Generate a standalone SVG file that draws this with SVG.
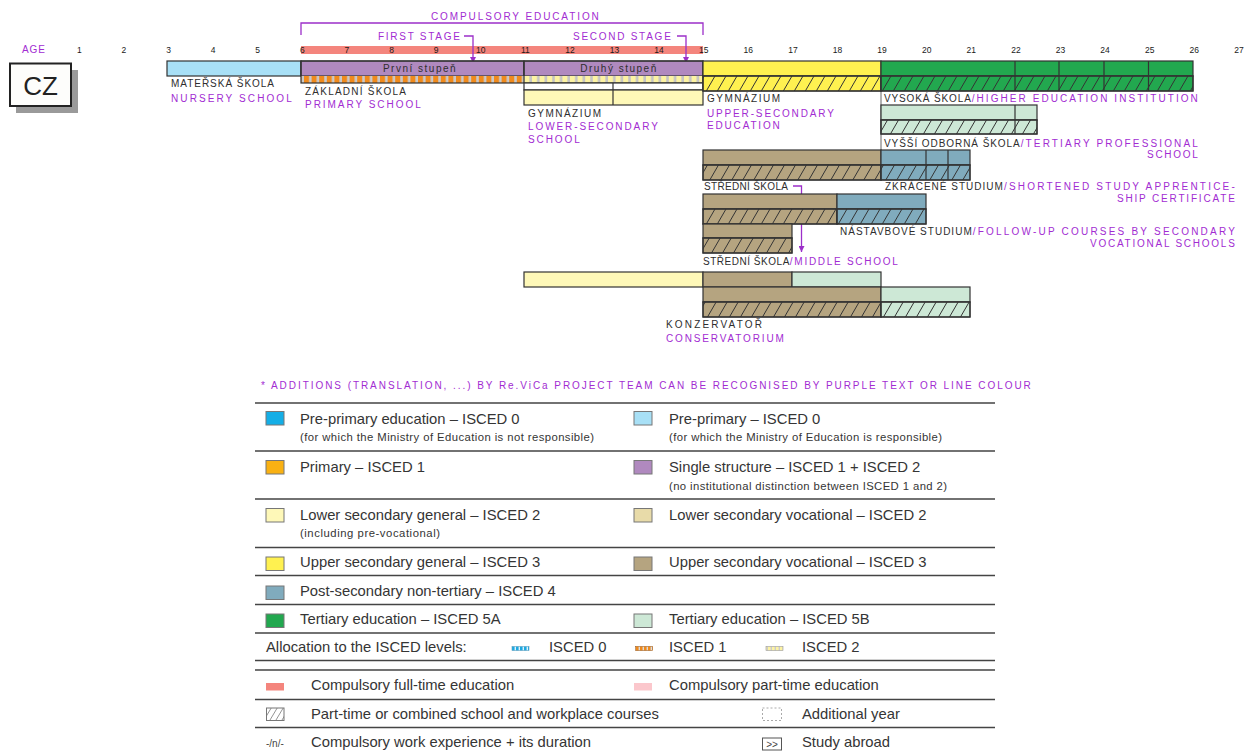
<svg xmlns="http://www.w3.org/2000/svg" width="1253" height="753" viewBox="0 0 1253 753">
<style>
text{font-family:"Liberation Sans",Arial,sans-serif}
.age{font-size:8.5px;fill:#1a1a1a;text-anchor:middle}
.k{font-size:10px;fill:#2e2e2e;letter-spacing:1px}
.p{font-size:10px;fill:#a22cd2;letter-spacing:2.2px}
.bt{font-size:10px;fill:#2e2e2e;letter-spacing:1.5px;text-anchor:middle}
.bx{stroke:#333;stroke-width:1.2}
.ln{fill:none;stroke:#333;stroke-width:1.2}
.h{fill:url(#hatch);stroke:#333;stroke-width:1.2}
.pl{fill:none;stroke:#9c2fc9;stroke-width:1.3}
.lg{font-size:14.8px;fill:#353535}
.ls{font-size:11.3px;fill:#353535}
.sq{stroke:#777;stroke-width:1}
.rule{stroke:#444;stroke-width:1.4}
.c-lb{fill:#a8e0f6}.c-pu{fill:#b089bf}.c-ye{fill:#fff150}.c-ly{fill:#fef8b8}
.c-gr{fill:#22a84f}.c-lg{fill:#cde8d6}.c-br{fill:#b5a480}.c-bl{fill:#80abbd}
</style>
<defs>
<pattern id="hatch" patternUnits="userSpaceOnUse" width="11" height="19">
<path d="M-11,19 L0,0 M0,19 L11,0 M11,19 L22,0" stroke="#333" stroke-width="1"/>
</pattern>
<pattern id="hatchg" patternUnits="userSpaceOnUse" width="6" height="10">
<path d="M-6,10 L0,0 M0,10 L6,0 M6,10 L12,0" stroke="#888" stroke-width="0.9"/>
</pattern>
<pattern id="isc1" patternUnits="userSpaceOnUse" width="7.6" height="8">
<rect width="7.6" height="8" fill="#f08a1c"/><rect x="5" width="2.6" height="8" fill="#c9c9c9"/>
</pattern>
<pattern id="isc2" patternUnits="userSpaceOnUse" width="7.6" height="8">
<rect width="7.6" height="8" fill="#fdf3a2"/><rect x="5" width="2.6" height="8" fill="#c4c4c4"/>
</pattern>
<pattern id="isc0" patternUnits="userSpaceOnUse" width="4" height="8">
<rect width="4" height="8" fill="#1fa9e1"/><rect x="2.6" width="1.4" height="8" fill="#dff3fb"/>
</pattern>
<pattern id="isc1s" patternUnits="userSpaceOnUse" width="4" height="8">
<rect width="4" height="8" fill="#f08a1c"/><rect x="2.6" width="1.4" height="8" fill="#ddd"/>
</pattern>
<pattern id="isc2s" patternUnits="userSpaceOnUse" width="4" height="8">
<rect width="4" height="8" fill="#fdf3a2"/><rect x="2.6" width="1.4" height="8" fill="#ccc"/>
</pattern>
<marker id="arr" viewBox="0 0 6 6" refX="6" refY="3" markerWidth="6" markerHeight="6" markerUnits="userSpaceOnUse" orient="auto">
<path d="M0,0 L6,3 L0,6 z" fill="#9c2fc9"/>
</marker>
</defs>

<rect width="1253" height="753" fill="#fff"/>

<g id="country">
<rect x="16" y="70" width="62" height="43" fill="#9a9a9a"/>
<rect x="10" y="63.5" width="61" height="42.5" fill="#fdfdfb" stroke="#222" stroke-width="2"/>
<text x="40.5" y="95" font-size="26" fill="#222" text-anchor="middle">CZ</text>
</g>

<g id="age-scale">
<text x="22" y="53" class="p" font-size="9.5" textLength="25">AGE</text>
<rect x="301" y="46" width="402" height="8" fill="#f4857d"/>
<text class="age" x="79.3" y="53">1</text><text class="age" x="123.9" y="53">2</text>
<text class="age" x="168.5" y="53">3</text><text class="age" x="213.1" y="53">4</text>
<text class="age" x="257.7" y="53">5</text><text class="age" x="302.3" y="53">6</text>
<text class="age" x="346.9" y="53">7</text><text class="age" x="391.5" y="53">8</text>
<text class="age" x="436.1" y="53">9</text><text class="age" x="480.7" y="53">10</text>
<text class="age" x="525.3" y="53">11</text><text class="age" x="569.9" y="53">12</text>
<text class="age" x="614.5" y="53">13</text><text class="age" x="659.1" y="53">14</text>
<text class="age" x="703.7" y="53">15</text><text class="age" x="748.3" y="53">16</text>
<text class="age" x="792.9" y="53">17</text><text class="age" x="837.5" y="53">18</text>
<text class="age" x="882.1" y="53">19</text><text class="age" x="926.7" y="53">20</text>
<text class="age" x="971.3" y="53">21</text><text class="age" x="1015.9" y="53">22</text>
<text class="age" x="1060.5" y="53">23</text><text class="age" x="1105.1" y="53">24</text>
<text class="age" x="1149.7" y="53">25</text><text class="age" x="1194.3" y="53">26</text>
<text class="age" x="1238.9" y="53">27</text>
</g>

<g id="connectors">
<path class="pl" d="M301,35 V23 H703 V35"/>
<text x="431" y="20" class="p" textLength="170">COMPULSORY EDUCATION</text>
<text x="378" y="40" class="p" textLength="84">FIRST STAGE</text>
<path class="pl" d="M464,36 H473 V63" marker-end="url(#arr)"/>
<text x="573" y="40" class="p" textLength="100">SECOND STAGE</text>
<path class="pl" d="M677,36 H686 V63" marker-end="url(#arr)"/>
<path class="pl" d="M793,186 H801.5 V252" marker-end="url(#arr)"/>
<path d="M881,91 V150" stroke="#666" stroke-width="1"/>
</g>

<g id="materska-skola">
<rect x="167" y="61" width="134" height="15" class="c-lb bx"/>
<text x="171" y="87" class="k" textLength="104">MATEŘSKÁ ŠKOLA</text>
<text x="171" y="102" class="p" textLength="123">NURSERY SCHOOL</text>
</g>

<g id="zakladni-skola">
<rect x="301" y="61" width="223" height="15" class="c-pu bx"/>
<rect x="524" y="61" width="179" height="15" class="c-pu bx"/>
<rect x="301" y="76" width="223" height="7" fill="url(#isc1)"/>
<rect x="524" y="76" width="179" height="7" fill="url(#isc2)"/>
<rect x="301" y="61" width="402" height="22" class="ln"/>
<path d="M524,61 V83" class="ln"/>
<text x="420" y="72" class="bt">První stupeň</text>
<text x="619" y="72" class="bt">Druhý stupeň</text>
<text x="305" y="95" class="k" textLength="102">ZÁKLADNÍ ŠKOLA</text>
<text x="305" y="108" class="p" textLength="118">PRIMARY SCHOOL</text>
</g>

<g id="gymnazium-lower">
<rect x="524" y="83" width="179" height="7" fill="#fff" class="bx"/>
<rect x="524" y="90" width="179" height="15" class="c-ly bx"/>
<path d="M613,83 V105" class="ln"/>
<text x="528" y="117" class="k" textLength="74">GYMNÁZIUM</text>
<text x="528" y="130" class="p" textLength="132">LOWER-SECONDARY</text>
<text x="528" y="143" class="p" textLength="54">SCHOOL</text>
</g>

<g id="gymnazium-upper">
<rect x="703" y="61" width="178" height="15" class="c-ye bx"/>
<rect x="703" y="76" width="178" height="15" class="c-ye bx"/>
<rect x="703" y="76" width="178" height="15" class="h"/>
<text x="707" y="102" class="k" textLength="74">GYMNÁZIUM</text>
<text x="707" y="116.5" class="p" textLength="129">UPPER-SECONDARY</text>
<text x="707" y="129" class="p" textLength="75">EDUCATION</text>
</g>

<g id="vysoka-skola">
<rect x="881" y="61" width="312" height="15" class="c-gr bx"/>
<rect x="881" y="76" width="312" height="15" class="c-gr bx"/>
<rect x="881" y="76" width="312" height="15" class="h"/>
<path d="M1015,61 V91 M1059,61 V91 M1104,61 V91 M1148.5,61 V91" class="ln"/>
<text x="884" y="102" textLength="316"><tspan class="k">VYSOKÁ ŠKOLA</tspan><tspan class="p">/HIGHER EDUCATION INSTITUTION</tspan></text>
</g>

<g id="vyssi-odborna-skola">
<rect x="881" y="105" width="156" height="15" class="c-lg bx"/>
<rect x="881" y="120" width="156" height="14" class="c-lg bx"/>
<rect x="881" y="120" width="156" height="14" class="h"/>
<path d="M1015,105 V134" class="ln"/>
<text x="884" y="146.5" textLength="316"><tspan class="k">VYŠŠÍ ODBORNÁ ŠKOLA</tspan><tspan class="p">/TERTIARY PROFESSIONAL</tspan></text>
<text x="1147" y="158" class="p" textLength="53">SCHOOL</text>
</g>

<g id="stredni-skola">
<rect x="703" y="150" width="178" height="15" class="c-br bx"/>
<rect x="703" y="165" width="178" height="15" class="c-br bx"/>
<rect x="703" y="165" width="178" height="15" class="h"/>
<text x="704" y="189.5" class="k" textLength="85">STŘEDNÍ ŠKOLA</text>
</g>

<g id="zkracene-studium">
<rect x="881" y="150" width="89" height="15" class="c-bl bx"/>
<rect x="881" y="165" width="89" height="15" class="c-bl bx"/>
<rect x="881" y="165" width="89" height="15" class="h"/>
<path d="M926,150 V180 M948,150 V180" class="ln"/>
<text x="885" y="190" textLength="352"><tspan class="k">ZKRÁCENÉ STUDIUM</tspan><tspan class="p">/SHORTENED STUDY APPRENTICE-</tspan></text>
<text x="1117" y="202" class="p" textLength="120">SHIP CERTIFICATE</text>
</g>

<g id="stredni-skola-b">
<rect x="703" y="194" width="134" height="15" class="c-br bx"/>
<rect x="703" y="209" width="134" height="15" class="c-br bx"/>
<rect x="703" y="209" width="134" height="15" class="h"/>
</g>

<g id="nastavbove-studium">
<rect x="837" y="194" width="89" height="15" class="c-bl bx"/>
<rect x="837" y="209" width="89" height="15" class="c-bl bx"/>
<rect x="837" y="209" width="89" height="15" class="h"/>
<text x="840" y="235" textLength="397"><tspan class="k">NÁSTAVBOVÉ STUDIUM</tspan><tspan class="p">/FOLLOW-UP COURSES BY SECONDARY</tspan></text>
<text x="1090" y="247" class="p" textLength="147">VOCATIONAL SCHOOLS</text>
</g>

<g id="stredni-skola-middle">
<rect x="703" y="224" width="89" height="14" class="c-br bx"/>
<rect x="703" y="238" width="89" height="15" class="c-br bx"/>
<rect x="703" y="238" width="89" height="15" class="h"/>
<text x="703" y="265" textLength="197"><tspan class="k">STŘEDNÍ ŠKOLA</tspan><tspan class="p">/MIDDLE SCHOOL</tspan></text>
</g>

<g id="konzervator">
<rect x="524" y="272" width="179" height="15" class="c-ly bx"/>
<rect x="703" y="272" width="89" height="15" class="c-br bx"/>
<rect x="792" y="272" width="89" height="15" class="c-lg bx"/>
<rect x="703" y="287" width="178" height="15" class="c-br bx"/>
<rect x="703" y="302" width="178" height="15" class="c-br bx"/>
<rect x="703" y="302" width="178" height="15" class="h"/>
<rect x="881" y="287" width="89" height="15" class="c-lg bx"/>
<rect x="881" y="302" width="89" height="15" class="c-lg bx"/>
<rect x="881" y="302" width="89" height="15" class="h"/>
<text x="666" y="328" class="k" letter-spacing="2" textLength="97">KONZERVATOŘ</text>
<text x="666" y="342" class="p" textLength="120">CONSERVATORIUM</text>
</g>

<g id="legend">
<text x="261" y="389" class="p" font-size="9.5" textLength="772">* ADDITIONS (TRANSLATION, ...) BY Re.ViCa PROJECT TEAM CAN BE RECOGNISED BY PURPLE TEXT OR LINE COLOUR</text>
<path class="rule" d="M255,403 H995 M255,451 H995 M255,499 H995 M255,547.5 H995 M255,575.5 H995 M255,604.5 H995 M255,633 H995 M255,660.5 H995 M255,670 H995 M255,699.5 H995 M255,727.5 H995"/>

<rect x="266" y="411.5" width="18" height="13.5" fill="#14aee6" class="sq"/>
<text x="300" y="423.5" class="lg">Pre-primary education – ISCED 0</text>
<text x="300" y="441" class="ls" textLength="294">(for which the Ministry of Education is not responsible)</text>
<rect x="634" y="411.5" width="18" height="13.5" fill="#a8e0f6" class="sq"/>
<text x="669" y="423.5" class="lg">Pre-primary – ISCED 0</text>
<text x="669" y="441" class="ls" textLength="273">(for which the Ministry of Education is responsible)</text>

<rect x="266" y="460.5" width="18" height="13.5" fill="#f9b113" class="sq"/>
<text x="300" y="471.5" class="lg">Primary – ISCED 1</text>
<rect x="634" y="460.5" width="18" height="13.5" fill="#b089bf" class="sq"/>
<text x="669" y="471.5" class="lg">Single structure – ISCED 1 + ISCED 2</text>
<text x="669" y="489.5" class="ls" textLength="278">(no institutional distinction between ISCED 1 and 2)</text>

<rect x="266" y="508.5" width="18" height="13.5" fill="#fef8b8" class="sq"/>
<text x="300" y="519.5" class="lg">Lower secondary general – ISCED 2</text>
<text x="300" y="537" class="ls" textLength="140">(including pre-vocational)</text>
<rect x="634" y="508.5" width="18" height="13.5" fill="#e8dba9" class="sq"/>
<text x="669" y="519.5" class="lg">Lower secondary vocational – ISCED 2</text>

<rect x="266" y="557" width="18" height="13.5" fill="#fff150" class="sq"/>
<text x="300" y="567" class="lg">Upper secondary general – ISCED 3</text>
<rect x="634" y="557" width="18" height="13.5" fill="#b5a480" class="sq"/>
<text x="669" y="567" class="lg">Upper secondary vocational – ISCED 3</text>

<rect x="266" y="586" width="18" height="13.5" fill="#80abbd" class="sq"/>
<text x="300" y="596" class="lg">Post-secondary non-tertiary – ISCED 4</text>

<rect x="266" y="614" width="18" height="13.5" fill="#22a84f" class="sq"/>
<text x="300" y="624" class="lg">Tertiary education – ISCED 5A</text>
<rect x="634" y="614" width="18" height="13.5" fill="#cde8d6" class="sq"/>
<text x="669" y="624" class="lg">Tertiary education – ISCED 5B</text>

<text x="266" y="652" class="lg">Allocation to the ISCED levels:</text>
<rect x="512" y="646.5" width="17" height="4" fill="url(#isc0)" stroke="#5a9ec0" stroke-width="0.6"/>
<text x="549" y="652" class="lg">ISCED 0</text>
<rect x="635.5" y="646.5" width="17" height="4" fill="url(#isc1s)" stroke="#a06020" stroke-width="0.6"/>
<text x="669" y="652" class="lg">ISCED 1</text>
<rect x="766" y="646.5" width="17" height="4" fill="url(#isc2s)" stroke="#999" stroke-width="0.6"/>
<text x="802" y="652" class="lg">ISCED 2</text>

<rect x="266" y="683" width="18" height="7.5" fill="#f4857d"/>
<text x="311" y="690" class="lg">Compulsory full-time education</text>
<rect x="634" y="683" width="18" height="7.5" fill="#fbc7cc"/>
<text x="669" y="690" class="lg">Compulsory part-time education</text>

<rect x="266.5" y="708" width="17.5" height="12.5" fill="#fff"/>
<rect x="266.5" y="708" width="17.5" height="12.5" fill="url(#hatchg)" stroke="#777" stroke-width="1"/>
<text x="311" y="718.5" class="lg">Part-time or combined school and workplace courses</text>
<rect x="762.5" y="708" width="19" height="12.5" fill="none" stroke="#aaa" stroke-width="1" stroke-dasharray="2,2"/>
<text x="802" y="718.5" class="lg">Additional year</text>

<text x="266" y="747" font-size="10" fill="#444">-/n/-</text>
<text x="311" y="747" class="lg">Compulsory work experience + its duration</text>
<rect x="762.5" y="738" width="19" height="12" fill="none" stroke="#555" stroke-width="1"/>
<text x="772" y="748" font-size="10" fill="#444" text-anchor="middle">&gt;&gt;</text>
<text x="802" y="747" class="lg">Study abroad</text>
</g>
</svg>
